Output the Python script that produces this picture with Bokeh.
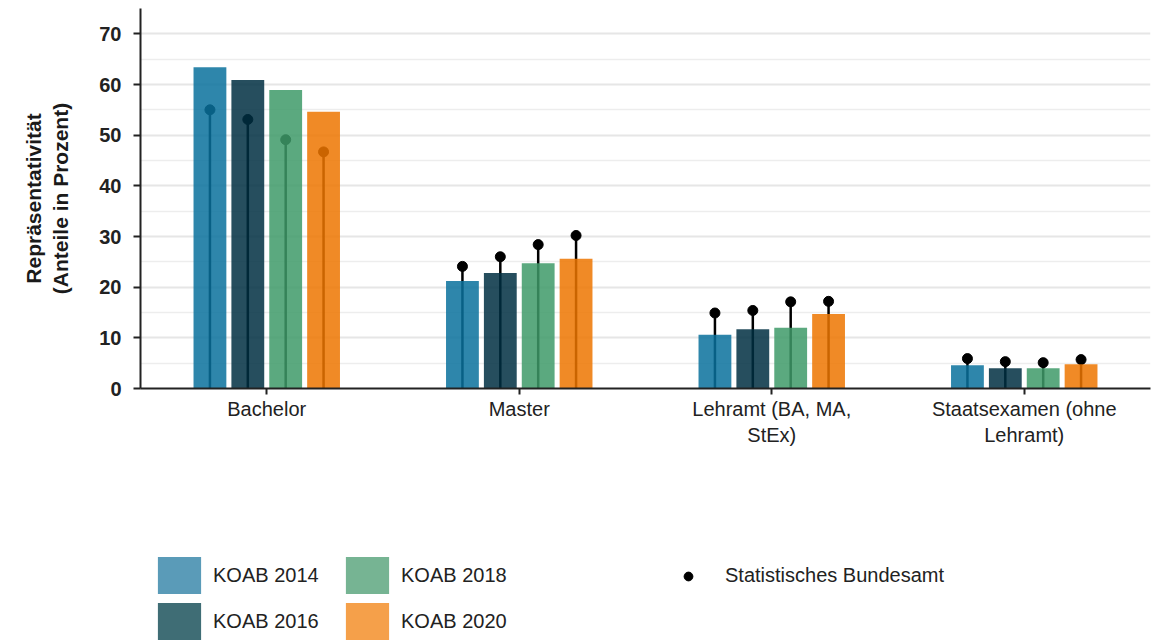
from bokeh.plotting import figure
from bokeh.layouts import column
from bokeh.models import (FactorRange, Range1d, Legend, LegendItem,
                          ColumnDataSource, FixedTicker)
from bokeh.transform import dodge
from bokeh.embed import file_html
from bokeh.resources import INLINE

# ---- data -----------------------------------------------------------------
categories = ["Bachelor", "Master", "Lehramt (BA, MA,\nStEx)",
              "Staatsexamen (ohne\nLehramt)"]
series_names = ["KOAB 2014", "KOAB 2016", "KOAB 2018", "KOAB 2020"]
koab_2014 = [63.4, 21.2, 10.6, 4.6]
koab_2016 = [60.9, 22.8, 11.7, 4.0]
koab_2018 = [58.9, 24.7, 12.0, 4.0]
koab_2020 = [54.6, 25.6, 14.7, 4.8]
destatis_2014 = [55.0, 24.1, 14.9, 5.9]
destatis_2016 = [53.1, 26.0, 15.4, 5.3]
destatis_2018 = [49.1, 28.4, 17.1, 5.1]
destatis_2020 = [46.7, 30.2, 17.2, 5.7]
destatis_name = "Statistisches Bundesamt"
y_ticks = [0, 10, 20, 30, 40, 50, 60, 70]
y_minor = [5, 15, 25, 35, 45, 55, 65, 75]

colors = ["#09719C", "#002F42", "#3E9A68", "#ED7500"]
legend_colors = ["#5A9BB8", "#3F6D75", "#76B493", "#F5A04A"]
offsets = [-0.225, -0.075, 0.075, 0.225]
koab = [koab_2014, koab_2016, koab_2018, koab_2020]
destatis = [destatis_2014, destatis_2016, destatis_2018, destatis_2020]

FONT = "Liberation Sans"

p = figure(frame_width=1010, frame_height=380, x_range=FactorRange(*categories),
           y_range=Range1d(0, 75), output_backend="svg",
           toolbar_location=None, min_border_left=140, min_border_right=2,
           min_border_top=8, min_border_bottom=150)
p.outline_line_color = None
p.background_fill_color = "white"

for name, vals, dvals, col, off in zip(series_names, koab, destatis, colors, offsets):
    src = ColumnDataSource(dict(cat=categories, v=vals, d=dvals,
                                base=[0] * len(categories)))
    xd = dodge("cat", off, range=p.x_range)
    p.segment(x0=xd, y0="base", x1=xd, y1="d", source=src,
              line_color="black", line_width=2.5)
    p.scatter(x=xd, y="d", source=src, size=10,
              fill_color="black", line_color="black")
    p.vbar(x=xd, top="v", width=0.13, source=src, fill_color=col,
           fill_alpha=0.85, line_color=None)

# axes
p.yaxis.ticker = FixedTicker(ticks=y_ticks, minor_ticks=y_minor)
p.yaxis.axis_label = "Repräsentativität\n(Anteile in Prozent)"
p.yaxis.axis_label_text_font = FONT
p.yaxis.axis_label_text_font_style = "bold"
p.yaxis.axis_label_text_font_size = "21px"
p.yaxis.axis_label_text_color = "#1a1a1a"
p.yaxis.axis_label_standoff = 24
p.yaxis.major_label_text_font = FONT
p.yaxis.major_label_text_font_size = "20px"
p.yaxis.major_label_text_font_style = "bold"
p.yaxis.major_label_text_color = "#222222"
p.yaxis.major_label_standoff = 12
p.yaxis.minor_tick_line_color = None
p.yaxis.major_tick_out = 7
p.yaxis.major_tick_in = 0
p.yaxis.major_tick_line_color = "#222222"
p.yaxis.major_tick_line_width = 2
p.yaxis.axis_line_color = "#222222"
p.yaxis.axis_line_width = 2

p.xaxis.major_label_text_font = FONT
p.xaxis.major_label_text_font_size = "20px"
p.xaxis.major_label_text_color = "#222222"
p.xaxis.major_label_standoff = 3
p.xaxis.major_tick_out = 6
p.xaxis.major_tick_in = 0
p.xaxis.major_tick_line_color = "#222222"
p.xaxis.major_tick_line_width = 2
p.xaxis.axis_line_color = "#222222"
p.xaxis.axis_line_width = 2
p.xaxis.minor_tick_line_color = None

p.xgrid.grid_line_color = None
p.ygrid.grid_line_color = "#E6E6E6"
p.ygrid.grid_line_width = 2
p.ygrid.minor_grid_line_color = "#EDEDED"
p.ygrid.minor_grid_line_width = 1.5

# ---- legend strip ---------------------------------------------------------
lg = figure(width=1152, height=106, x_axis_type=None, y_axis_type=None,
            output_backend="svg", toolbar_location=None,
            min_border_left=0, min_border_right=0, min_border_top=0,
            min_border_bottom=0)
lg.outline_line_color = None
lg.background_fill_color = "white"

idx = list(range(len(categories)))
leg_bars = [lg.vbar(x=idx, top=vals, width=0.5, fill_color=c, line_color=None,
                    visible=False)
            for c, vals in zip(legend_colors, koab)]
leg_dot = lg.scatter(x=idx, y=destatis_2014, size=9, fill_color="black",
                     line_color="black", visible=False)

leg1 = Legend(items=[LegendItem(label=n, renderers=[r])
                     for n, r in zip(series_names, leg_bars)],
              location=(12, 0), nrows=2, orientation="vertical",
              glyph_width=54, glyph_height=46, label_standoff=7,
              label_width=127, spacing=0, padding=0, margin=0,
              border_line_alpha=0, background_fill_alpha=0,
              inactive_fill_alpha=0,
              label_text_font=FONT, label_text_font_size="20px",
              label_text_color="#222222")
leg2 = Legend(items=[LegendItem(label=destatis_name, renderers=[leg_dot])],
              location=(537, 57), glyph_width=22, glyph_height=22,
              label_standoff=26, padding=0, margin=0,
              border_line_alpha=0, background_fill_alpha=0,
              inactive_fill_alpha=0,
              label_text_font=FONT, label_text_font_size="20px",
              label_text_color="#222222")
lg.add_layout(leg1)
lg.add_layout(leg2)

open("out.html", "w").write(file_html(column(p, lg), INLINE))
